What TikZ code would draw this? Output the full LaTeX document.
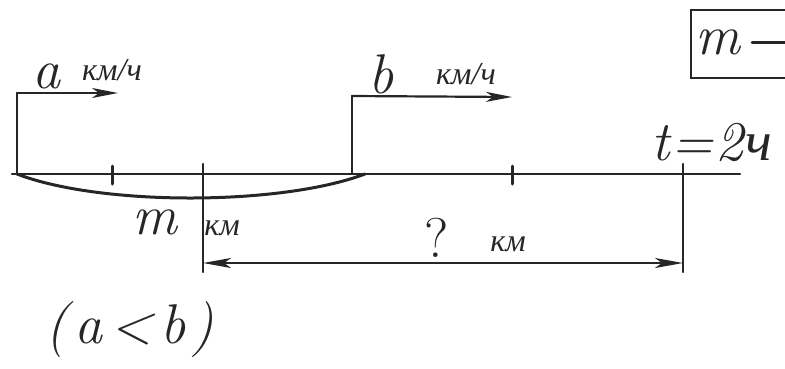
\documentclass[tikz,border=0pt]{standalone}
\usepackage{fontspec}
\usetikzlibrary{arrows.meta}
\setmainfont{Latin Modern Roman}
\newfontfamily\cyr{Liberation Serif}
\begin{document}
\begin{tikzpicture}[x=1pt,y=-1pt,
  pen/.style={line width=3pt, line cap=round, color=black!85},
  thin pen/.style={line width=2.2pt, line cap=round, color=black!85},
  tip/.style={-{Stealth[length=26pt,width=10pt,inset=7pt]}},
  dtip/.style={{Stealth[length=28pt,width=10pt,inset=7pt]}-{Stealth[length=28pt,width=10pt,inset=7pt]}},
  big/.style={inner sep=0pt, font=\itshape\fontsize{56}{56}\selectfont, text=black!85},
  unit/.style={inner sep=0pt, font=\cyr\itshape\fontsize{32}{32}\selectfont, text=black!85}]
\useasboundingbox (0,0) rectangle (785,368);
\clip (0,0) rectangle (785,368);
% coordinates
\coordinate (L) at (12,174);
\coordinate (R) at (740,174);
\coordinate (A0) at (17,174);
\coordinate (A1) at (17,93);
\coordinate (A2) at (118,93);
\coordinate (B0) at (352,174);
\coordinate (B1) at (352,96);
\coordinate (B2) at (512,97);
\coordinate (ArcEnd) at (365,174);
\coordinate (T1a) at (112,166); \coordinate (T1b) at (112,184);
\coordinate (M0) at (203,164); \coordinate (M1) at (203,272);
\coordinate (T2a) at (512,166); \coordinate (T2b) at (512,184);
\coordinate (N0) at (683,164); \coordinate (N1) at (683,272);
\coordinate (D1) at (203,263);
\coordinate (D2) at (683,263);
\coordinate (Mi1) at (752,42);
\coordinate (Mi2) at (795,42);
% main line and ticks
\draw[thin pen] (L) -- (R);
\draw[pen] (T1a) -- (T1b);
\draw[pen] (T2a) -- (T2b);
\draw[thin pen] (M0) -- (M1);
\draw[thin pen] (N0) -- (N1);
% speed arrows
\draw[thin pen] (A0) -- (A1);
\draw[thin pen, tip] (A1) -- (A2);
\draw[thin pen] (B0) -- (B1);
\draw[thin pen, tip] (B1) -- (B2);
% arc m
\draw[pen] (A0) .. controls (100,206) and (280,206) .. (ArcEnd);
% distance arrow
\draw[thin pen, dtip] (D1) -- (D2);
% labels
\node[big] (a) at (46,76) {a};
\node[unit] (au) at (112,70) {км/ч};
\node[big] (b) at (381,74) {b};
\node[unit] (bu) at (466,74) {км/ч};
\node[big] (t) at (712,142) {t\kern2pt=\kern2pt2\kern2pt{\cyr\itshape ч}};
\node[big] (m) at (155,222) {m};
\node[unit] (mu) at (222,228) {км};
\node[big, font=\fontsize{56}{56}\selectfont] (q) at (437,238) {?};
\node[unit] (qu) at (508,244) {км};
\node[big] (ab) at (130,330) {({\kern6pt}a\kern8pt<\kern8pt b{\kern6pt})};
% box top right
\node[draw, line width=2.2pt, color=black!85, minimum height=68pt, minimum width=130pt, anchor=north west, inner sep=0pt] (box) at (690,9) {};
\node[big] (boxtext) at (718,42) {m};
\draw[pen] (Mi1) -- (Mi2);
\end{tikzpicture}
\end{document}
